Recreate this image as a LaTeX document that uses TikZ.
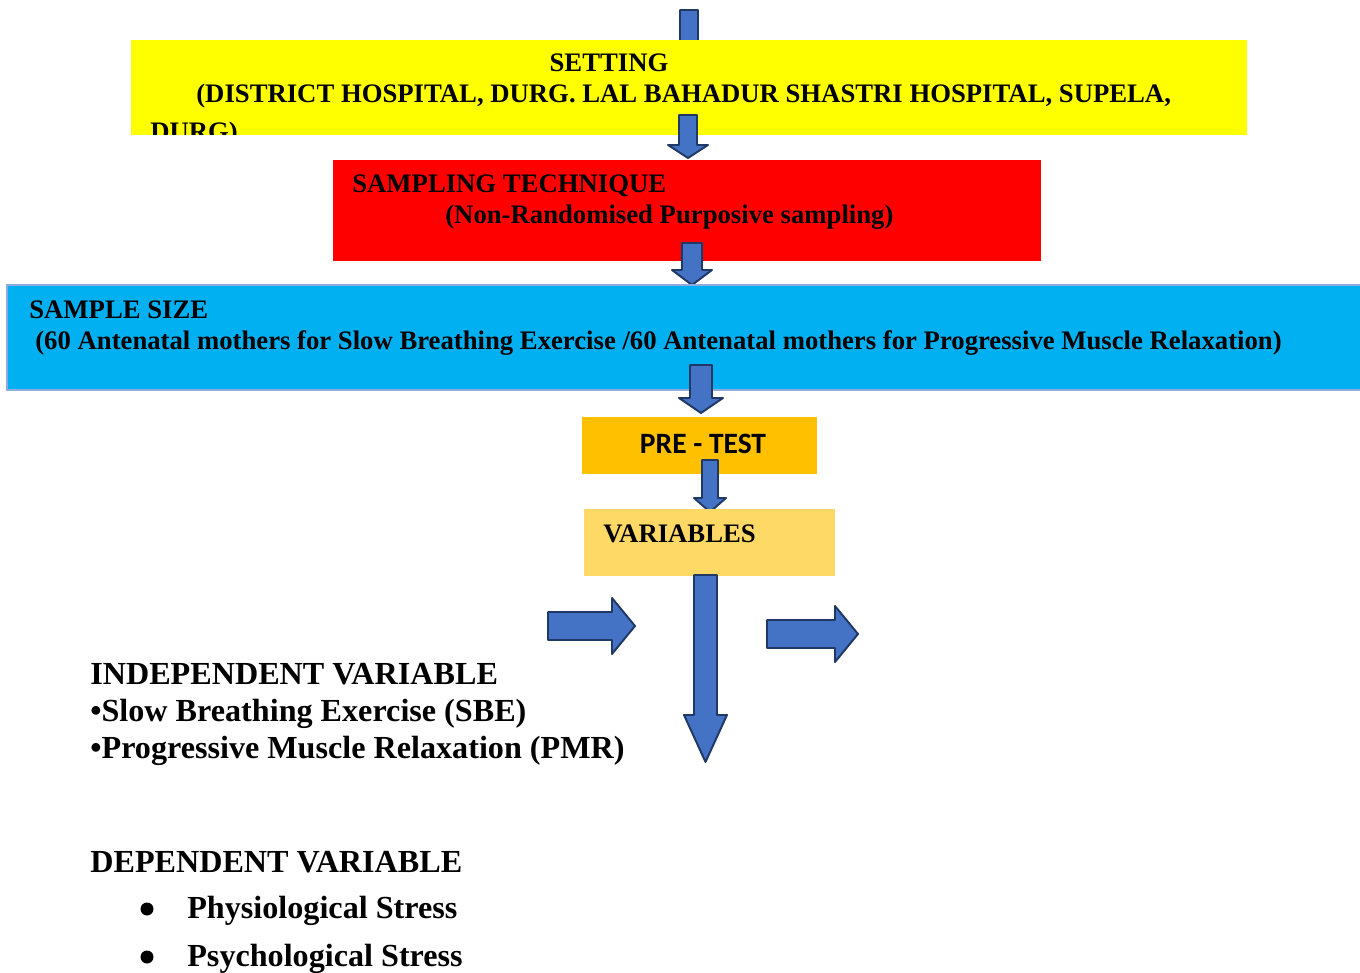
\documentclass[tikz,border=0pt]{standalone}
\usepackage{fontspec}
\setmainfont{Liberation Serif}
\newfontfamily\calibri{Carlito}
\usetikzlibrary{positioning}
\definecolor{arrowblue}{RGB}{68,114,196}
\definecolor{arrowedge}{RGB}{31,56,100}
\definecolor{settingyellow}{RGB}{255,255,0}
\definecolor{samplingred}{RGB}{255,0,0}
\definecolor{sizeblue}{RGB}{0,176,240}
\definecolor{sizeedge}{RGB}{143,170,220}
\definecolor{pretestorange}{RGB}{255,192,0}
\definecolor{variablegold}{RGB}{255,217,102}
% block arrows: x, top, neck, tip, half shaft, half head
\newcommand\downblock[6]{%
  \filldraw[blockarrow] (#1-#5,#2) -- (#1+#5,#2) -- (#1+#5,#3) -- (#1+#6,#3)
    -- (#1,#4) -- (#1-#6,#3) -- (#1-#5,#3) -- cycle;}
% y, left, neck, tip, half shaft, half head
\newcommand\rightblock[6]{%
  \filldraw[blockarrow] (#2,#1-#5) -- (#3,#1-#5) -- (#3,#1-#6) -- (#4,#1)
    -- (#3,#1+#6) -- (#3,#1+#5) -- (#2,#1+#5) -- cycle;}

\begin{document}
\begin{tikzpicture}[x=0.02cm,y=-0.02cm,
  blockarrow/.style={fill=arrowblue,draw=arrowedge,line width=1.1pt,line join=round},
  box/.style={anchor=north west,inner sep=0pt,outer sep=0pt},
  small/.style={anchor=base west,inner sep=0pt,font=\bfseries\fontsize{15.2}{18}\selectfont},
  big/.style={anchor=base west,inner sep=0pt,font=\bfseries\fontsize{18.3}{21}\selectfont}]
\useasboundingbox[fill=white] (0,0) rectangle (1360,973);

\downblock{689}{10}{75}{90}{9}{19}
% setting
\node[box,fill=settingyellow,minimum width=1116*0.02cm,minimum height=95*0.02cm] (setting) at (131,40) {};
\begin{scope}
  \clip (131,40) rectangle (1247,135);
  \node[small,anchor=base] (settinghead) at (609,72) {SETTING};
  \node[small] (settingline) at (196,103) {(DISTRICT HOSPITAL, DURG. LAL BAHADUR SHASTRI HOSPITAL, SUPELA,};
  \node[small] (settingrest) at (150,141) {DURG)};
\end{scope}
\downblock{688}{115}{145}{158}{9}{20}

% sampling technique
\node[box,fill=samplingred,minimum width=708*0.02cm,minimum height=101*0.02cm] (sampling) at (333,160) {};
\node[small] (samplinghead) at (352,193) {SAMPLING TECHNIQUE};
\node[small] (samplingline) at (445,224) {(Non-Randomised Purposive sampling)};
\downblock{692}{243}{270}{285}{10}{20}

% sample size
\node[box,fill=sizeblue,draw=sizeedge,line width=1.7pt,minimum width=1380*0.02cm,minimum height=105*0.02cm] (size) at (7,285) {};
\node[small] (sizehead) at (29,319) {SAMPLE SIZE};
\node[small] (sizeline) at (35,350) {(60 Antenatal mothers for Slow Breathing Exercise /60 Antenatal mothers for Progressive Muscle Relaxation)};
\downblock{701}{365}{398}{413}{11}{22}

% pre-test and variables
\node[box,fill=pretestorange,minimum width=235*0.02cm,minimum height=57*0.02cm] (pretest) at (582,417) {};
\node[anchor=base,inner sep=0pt,font=\calibri\bfseries\fontsize{16.8}{20}\selectfont] (pretesttext) at (703,453) {PRE - TEST};
\downblock{710}{460}{498}{512}{8}{16}
\node[box,fill=variablegold,minimum width=251*0.02cm,minimum height=67*0.02cm] (variables) at (584,509) {};
\node[small] (variablestext) at (603,542) {VARIABLES};
\downblock{705.5}{575}{715}{762}{11.5}{21.5}
\rightblock{626}{548}{612}{635}{14}{28}
\rightblock{634}{767}{835}{858}{14}{28}

% independent variable
\node[big] (indephead) at (90,684) {INDEPENDENT VARIABLE};
\node[big] (indepsbe) at (90,721) {\textbullet Slow Breathing Exercise (SBE)};
\node[big] (indeppmr) at (90,758) {\textbullet Progressive Muscle Relaxation (PMR)};

% dependent variable
\node[big] (dephead) at (90,872) {DEPENDENT VARIABLE};
\fill (147,909) circle (6.5);
\node[big] (depphys) at (187,918) {Physiological Stress};
\fill (147,957) circle (6.5);
\node[big] (deppsych) at (187,966) {Psychological Stress};
\end{tikzpicture}
\end{document}
